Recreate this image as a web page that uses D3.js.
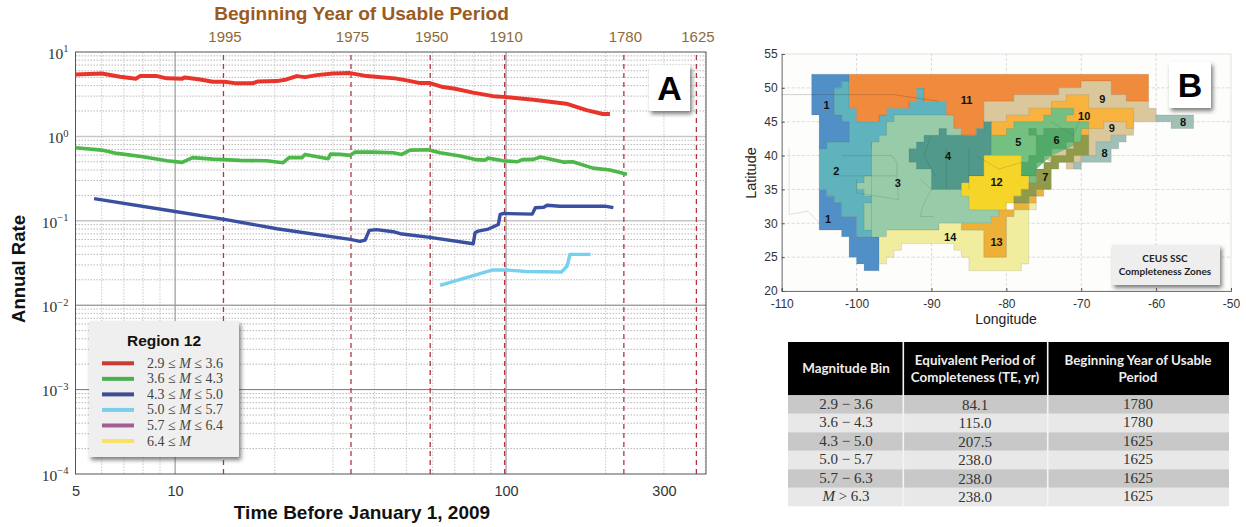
<!DOCTYPE html>
<html>
<head>
<meta charset="utf-8">
<script src="https://cdn.jsdelivr.net/npm/d3@7"></script>
<style>
  html, body { margin: 0; padding: 0; background: #fff; overflow: hidden; }
  svg { display: block; }
  text { font-family: "Liberation Sans", Arial, sans-serif; }
</style>
</head>
<body>
<svg id="chart" width="1246" height="527"></svg>
<script>
// panel A
const redTime = [5, 6, 6.82, 7.62, 7.83, 8.81, 9.44, 10.5, 10.7, 11.9, 13, 14.1, 15.3, 17.1, 17.8, 20.3, 21.7, 23.3, 24.7, 26.8, 30, 33.8, 38, 40.2, 46.2, 50.1, 55, 58.9, 64.5, 70.1, 79.5, 91.4, 100.5, 121, 152, 175, 196, 206]
const redRate = [5.43, 5.57, 5.1, 4.83, 5.18, 5.18, 4.87, 4.83, 5, 4.73, 4.45, 4.45, 4.25, 4.25, 4.48, 4.52, 4.73, 5.18, 5.04, 5.32, 5.57, 5.62, 5.18, 5.1, 4.87, 4.61, 4.28, 4.28, 3.84, 3.67, 3.3, 3, 2.92, 2.72, 2.44, 2.05, 1.84, 1.84]
const greenTime = [5, 6, 6.67, 8, 9.44, 10.5, 11.3, 13, 15.7, 18.9, 21.2, 22.1, 24.2, 24.7, 29, 29.5, 31.5, 33.8, 35, 39.6, 45.6, 48.4, 51.3, 58.1, 63.2, 72.6, 81.4, 86.4, 88.3, 98, 108, 112, 121, 127, 149, 159, 183, 206, 232]
const greenRate = [0.735, 0.688, 0.629, 0.575, 0.515, 0.492, 0.56, 0.538, 0.52, 0.515, 0.488, 0.56, 0.56, 0.612, 0.544, 0.617, 0.612, 0.596, 0.652, 0.652, 0.641, 0.612, 0.688, 0.695, 0.641, 0.585, 0.53, 0.524, 0.553, 0.515, 0.5, 0.53, 0.534, 0.569, 0.496, 0.5, 0.421, 0.399, 0.357]
const blueTime = [5.69, 10, 14.1, 20.3, 33.8, 36.2, 37.5, 38.6, 40.6, 45.6, 47.9, 58.9, 79.6, 80.6, 82.4, 88.4, 94.8, 96, 98.2, 120, 122.6, 130, 133, 145.5, 199, 211]
const blueRate = [0.183, 0.129, 0.104, 0.0806, 0.0602, 0.057, 0.059, 0.0769, 0.0785, 0.0743, 0.0703, 0.0636, 0.0535, 0.0723, 0.0755, 0.0798, 0.0906, 0.119, 0.122, 0.12, 0.143, 0.145, 0.153, 0.149, 0.149, 0.143]
const skyTime = [63.2, 90.6, 100.5, 115, 147, 153, 156, 180]
const skyRate = [0.0172, 0.0261, 0.0261, 0.0251, 0.0247, 0.0291, 0.04, 0.04]

const beginYears = ['1995', '1975', '1950', '1910', '1780', '1625']
const beginTimes = [14, 34, 59, 99, 227, 376]
const timeTicks = [5, 10, 100, 300]
const minorTimes = [6, 7, 8, 9, 20, 30, 40, 50, 60, 70, 80, 90, 200, 300, 400]
const rateDecades = [1, 0, -1, -2, -3, -4]
const lightDecades = [0, -1]

const legendLow = ['2.9', '3.6', '4.3', '5.0', '5.7', '6.4']
const legendHigh = ['3.6', '4.3', '5.0', '5.7', '6.4', '']
const legendColors = ['#c93a32', '#4cae50', '#3b4e90', '#7ccdec', '#a45e96', '#f7e268']

// panel B zones, lon/lat corners
const zone2 = [[-102, 51], [-101, 51], [-101, 47], [-100, 47], [-100, 45], [-97, 45], [-97, 46], [-96, 46], [-96, 47], [-93, 47], [-93, 48], [-92, 48], [-92, 50], [-91, 50], [-91, 48], [-88, 48], [-88, 45], [-98, 41], [-98, 28], [-100, 28], [-100, 31], [-102, 31], [-102, 33], [-103, 33], [-103, 34], [-104, 34], [-104, 35], [-105, 35], [-105, 41], [-104, 46], [-103, 46], [-103, 50], [-102, 50]]
const zone1North = [[-106, 52], [-101, 52], [-101, 51], [-102, 51], [-102, 50], [-103, 50], [-103, 46], [-102, 46], [-102, 45], [-101, 45], [-101, 42], [-104, 42], [-104, 41], [-105, 41], [-105, 46], [-106, 46]]
const zone1South = [[-105, 35], [-104, 35], [-104, 34], [-103, 34], [-103, 33], [-102, 33], [-102, 31], [-100, 31], [-100, 28], [-97, 28], [-97, 23], [-99, 23], [-99, 24], [-100, 24], [-100, 25], [-101, 25], [-101, 28], [-102, 28], [-102, 29], [-105, 29]]
const zone3 = [[-98, 42], [-97, 42], [-97, 43], [-96, 43], [-96, 45], [-95, 45], [-95, 46], [-87, 46], [-87, 44], [-86, 44], [-85, 38], [-84, 36], [-84, 32], [-81, 32], [-81, 31], [-82, 31], [-82, 30], [-89, 30], [-89, 29], [-96, 29], [-96, 28], [-98, 28], [-98, 29], [-99, 29], [-99, 33], [-98, 33], [-98, 34], [-99, 34], [-99, 35], [-100, 35], [-100, 36], [-99, 36], [-99, 37], [-98, 37]]
const zone11 = [[-101, 52], [-61, 52], [-61, 48], [-64, 48], [-64, 49], [-66, 49], [-66, 51], [-70, 51], [-70, 50], [-73, 50], [-73, 49], [-79, 49], [-79, 48], [-83, 48], [-83, 44], [-84, 44], [-84, 43], [-86, 43], [-86, 44], [-87, 44], [-87, 46], [-88, 46], [-88, 48], [-91, 48], [-91, 50], [-92, 50], [-92, 48], [-93, 48], [-93, 47], [-96, 47], [-96, 46], [-97, 46], [-97, 45], [-100, 45], [-100, 47], [-101, 47]]
const zone9 = [[-83, 48], [-79, 48], [-79, 49], [-73, 49], [-73, 50], [-70, 50], [-70, 51], [-66, 51], [-66, 49], [-64, 49], [-64, 48], [-61, 48], [-61, 47], [-60, 47], [-60, 45], [-63, 45], [-63, 43], [-66, 43], [-66, 42], [-68, 42], [-68, 40], [-70, 40], [-70, 39], [-71, 39], [-71, 38], [-72, 38], [-72, 39], [-74, 39], [-82, 45], [-83, 44]]
const zone10 = [[-82, 45], [-80, 45], [-80, 46], [-77, 46], [-77, 47], [-74, 47], [-74, 48], [-72, 48], [-72, 49], [-69, 49], [-69, 47], [-63, 47], [-63, 44], [-64, 44], [-64, 45], [-67, 45], [-67, 44], [-69, 44], [-69, 43], [-70, 43], [-70, 42], [-82, 43]]
const zone5 = [[-82, 43], [-80, 43], [-80, 44], [-79, 44], [-79, 45], [-75, 45], [-75, 46], [-74, 46], [-74, 47], [-71, 47], [-71, 46], [-72, 46], [-72, 45], [-69, 45], [-69, 44], [-70, 44], [-70, 42], [-72, 41], [-74, 40], [-76, 38], [-76, 36], [-77, 36], [-77, 37], [-78, 37], [-78, 40], [-82, 40]]
const zone6 = [[-77, 44], [-76, 44], [-76, 43], [-75, 43], [-75, 44], [-71, 44], [-71, 42], [-72, 42], [-72, 41], [-74, 41], [-74, 40], [-75, 40], [-75, 39], [-76, 39], [-76, 38], [-76, 37], [-78, 37], [-78, 39], [-77, 39], [-77, 40], [-76, 40], [-76, 43], [-77, 43]]
const zone4 = [[-91, 43], [-89, 43], [-89, 44], [-88, 44], [-88, 43], [-84, 43], [-84, 44], [-83, 44], [-83, 45], [-82, 45], [-82, 40], [-83, 40], [-83, 37], [-85, 37], [-85, 36], [-86, 36], [-86, 35], [-90, 35], [-90, 38], [-92, 38], [-92, 39], [-93, 39], [-93, 41], [-92, 41], [-92, 42], [-91, 42]]
const zone12 = [[-83, 40], [-78, 40], [-78, 37], [-77, 37], [-77, 35], [-78, 35], [-78, 34], [-79, 34], [-79, 33], [-80, 33], [-80, 32], [-85, 32], [-85, 34], [-86, 34], [-86, 36], [-85, 36], [-85, 37], [-83, 37]]
const zone14 = [[-97, 28], [-96, 28], [-96, 29], [-89, 29], [-89, 30], [-86, 30], [-86, 29], [-83, 29], [-83, 25], [-80, 25], [-80, 31], [-79, 31], [-79, 32], [-76, 32], [-76, 33], [-77, 33], [-77, 24], [-78, 24], [-78, 23], [-85, 23], [-85, 25], [-86, 25], [-86, 26], [-87, 26], [-87, 27], [-94, 27], [-94, 26], [-95, 26], [-95, 25], [-96, 25], [-96, 24], [-97, 24]]
const zone13 = [[-81, 32], [-79, 32], [-79, 31], [-80, 31], [-80, 25], [-83, 25], [-83, 29], [-86, 29], [-86, 30], [-82, 30], [-82, 31], [-81, 31]]
const zone13East = [[-79, 33], [-77, 33], [-77, 34], [-76, 34], [-76, 35], [-75, 35], [-75, 34], [-76, 34], [-76, 33], [-77, 33], [-77, 32], [-79, 32]]
const zone7 = [[-70, 43], [-69, 43], [-69, 40], [-71, 40], [-71, 39], [-73, 39], [-73, 38], [-74, 38], [-74, 35], [-76, 35], [-76, 34], [-77, 34], [-77, 33], [-79, 33], [-79, 34], [-78, 34], [-78, 35], [-77, 35], [-77, 36], [-76, 36], [-76, 38], [-75, 38], [-75, 39], [-74, 39], [-74, 40], [-72, 40], [-72, 41], [-71, 41], [-71, 42], [-70, 42]]
const zone8East = [[-60, 46], [-55, 46], [-55, 44], [-58, 44], [-58, 45], [-60, 45]]
const zone8South = [[-66, 43], [-64, 43], [-64, 42], [-65, 42], [-65, 41], [-66, 41], [-66, 39], [-70, 39], [-70, 40], [-68, 40], [-68, 42], [-66, 42]]
const zone8Small = [[-71, 39], [-70, 39], [-70, 38], [-71, 38]]

const zoneShapes = [zone2, zone1North, zone1South, zone3, zone11, zone9, zone10, zone5, zone6, zone4, zone14, zone13, zone13East, zone12, zone7, zone8East, zone8South, zone8Small]
const zoneColors = ['#5fb3bd', '#5090c6', '#5090c6', '#98cca8', '#f08a3c', '#dac89c', '#f8b33f', '#74c080', '#52aa68', '#51998a', '#f0ee9e', '#eeb138', '#e9b33c', '#f5d527', '#8f9b48', '#9fbfb7', '#9fbfb7', '#9fbfb7']

const zoneNames = ['1', '1', '2', '3', '4', '11', '14', '9', '10', '9', '8', '8', '5', '6', '7', '12', '13']
const zoneLon = [-104, -103.8, -102.7, -94.5, -87.8, -85.3, -87.5, -67.2, -69.6, -65.9, -56.4, -66.9, -78.4, -73.3, -74.8, -81.3, -81.3]
const zoneLat = [47.4, 30.7, 37.7, 36, 40, 48.2, 28, 48.35, 45.9, 44.1, 44.9, 40.4, 42, 42.3, 36.8, 36.1, 27.3]

const borderNorth = [[-110, 49], [-95, 49], [-92, 48.5], [-89, 48]]
const borderWest = [[-109, 41], [-109, 31.3], [-106.5, 31.8], [-104.5, 29.5], [-103, 29], [-101.5, 29.8], [-99.5, 27.5], [-97.3, 26]]
const stateLines = [
  [[-98, 42], [-98, 28]],
  [[-102, 40], [-95.3, 40], [-94.6, 39]],
  [[-94.6, 39], [-94.6, 36.5], [-94.4, 33.5]],
  [[-103, 37], [-94.6, 37]],
  [[-91.5, 36.5], [-90, 35], [-91, 33], [-91.5, 31], [-89.7, 31]],
  [[-88, 41], [-88, 35]],
  [[-85, 41], [-85, 35]],
  [[-100, 36.5], [-100, 34.5], [-94.4, 33.5]],
  [[-90, 43], [-91, 40], [-89.5, 37]],
  [[-84, 40], [-81, 38], [-78, 39]],
  [[-74, 45], [-71, 43], [-70, 46]]
]
const mapLons = [-100, -90, -80, -70, -60]
const mapLats = [25, 30, 35, 40, 45, 50]
const mapLonTicks = [-110, -100, -90, -80, -70, -60, -50]
const mapLatTicks = [20, 25, 30, 35, 40, 45, 50, 55]

// table under the map
const tableHeads = [['Magnitude Bin'], ['Equivalent Period of', 'Completeness (TE, yr)'], ['Beginning Year of Usable', 'Period']]
const binLabels = ['2.9 \u2212 3.6', '3.6 \u2212 4.3', '4.3 \u2212 5.0', '5.0 \u2212 5.7', '5.7 \u2212 6.3', '> 6.3']
const periodLabels = ['84.1', '115.0', '207.5', '238.0', '238.0', '238.0']
const startLabels = ['1780', '1780', '1625', '1625', '1625', '1625']

const svg = d3.select('#chart')
const defs = svg.append('defs')
const shadow = defs.append('filter').attr('id', 'shadow')
  .attr('x', '-10%').attr('y', '-10%').attr('width', '125%').attr('height', '125%')
shadow.append('feDropShadow')
  .attr('dx', 2).attr('dy', 3).attr('stdDeviation', 2)
  .attr('flood-color', '#444').attr('flood-opacity', 0.7)

const x = d3.scaleLog().domain([5, 402]).range([75.5, 706])
const y = d3.scaleLog().domain([1e-4, 10]).range([474, 52])

const grid = svg.append('g')
const minorRates = y.ticks().filter((d) => !rateDecades.includes(Math.round(Math.log10(d) * 1000) / 1000))

grid.selectAll('.minor-h').data(minorRates).enter().append('line')
  .attr('x1', x.range()[0]).attr('x2', x.range()[1])
  .attr('y1', y).attr('y2', y)
  .attr('stroke', '#a6a6a6').attr('stroke-width', 0.8).attr('stroke-dasharray', '1.5,1.5')
grid.selectAll('.minor-v').data(minorTimes).enter().append('line')
  .attr('x1', x).attr('x2', x)
  .attr('y1', y.range()[0]).attr('y2', y.range()[1])
  .attr('stroke', '#c4c4c4').attr('stroke-width', 0.9).attr('stroke-dasharray', '1.5,1.5')
grid.selectAll('.major-h').data(rateDecades.slice(1, 5)).enter().append('line')
  .attr('x1', x.range()[0]).attr('x2', x.range()[1])
  .attr('y1', (d) => y(Math.pow(10, d))).attr('y2', (d) => y(Math.pow(10, d)))
  .attr('stroke', (d) => lightDecades.includes(d) ? '#c6c6c6' : '#777')
  .attr('stroke-width', (d) => lightDecades.includes(d) ? 1.5 : 1)
grid.selectAll('.major-v').data([10, 100]).enter().append('line')
  .attr('x1', x).attr('x2', x)
  .attr('y1', y.range()[0]).attr('y2', y.range()[1])
  .attr('stroke', '#9a9a9a').attr('stroke-width', 1.2)

svg.append('g').selectAll('line').data(beginTimes).enter().append('line')
  .attr('x1', x).attr('x2', x)
  .attr('y1', y.range()[0]).attr('y2', y.range()[1])
  .attr('stroke', '#b03645').attr('stroke-width', 1.3).attr('stroke-dasharray', '5,4')

svg.append('rect')
  .attr('x', 75.5).attr('y', 52).attr('width', 630.5).attr('height', 422)
  .attr('fill', 'none').attr('stroke', '#555').attr('stroke-width', 1)

const rateLine = d3.line().x((d) => x(d[0])).y((d) => y(d[1]))
const seriesList = [[redTime, redRate, '#e8352b', 4], [greenTime, greenRate, '#4db74a', 3.6], [blueTime, blueRate, '#3a4f9f', 3.4], [skyTime, skyRate, '#78d0ef', 3.4]]
svg.append('g').selectAll('path').data(seriesList).enter().append('path')
  .attr('d', (s) => rateLine(d3.zip(s[0], s[1])))
  .attr('fill', 'none')
  .attr('stroke', (s) => s[2])
  .attr('stroke-width', (s) => s[3])
  .attr('stroke-linejoin', 'round')

// axes
const bottomAxis = svg.append('g')
  .attr('transform', 'translate(0,474)')
  .call(d3.axisBottom(x).tickValues(timeTicks).tickFormat((d) => d).tickSize(0).tickPadding(12))
bottomAxis.select('.domain').remove()
bottomAxis.selectAll('text').attr('font-size', 14.5).attr('fill', '#333')
  .style('font-family', '"Liberation Sans"')

const topAxis = svg.append('g')
  .attr('transform', 'translate(0,52)')
  .call(d3.axisTop(x).tickValues(beginTimes).tickFormat((d, i) => beginYears[i]).tickSize(0).tickPadding(10))
topAxis.select('.domain').remove()
topAxis.selectAll('text').attr('font-size', 15).attr('fill', '#8e6a38').attr('dx', 1)
  .style('font-family', '"Liberation Sans"')

const leftAxis = svg.append('g')
  .attr('transform', 'translate(75.5,0)')
  .call(d3.axisLeft(y).tickValues(rateDecades.map((d) => Math.pow(10, d))).tickFormat('').tickSize(0))
leftAxis.select('.domain').remove()
leftAxis.selectAll('.tick text').each(function (d, i) {
  const t = d3.select(this)
    .attr('x', -7).attr('dy', '0.4em').attr('fill', '#333')
    .style('font-family', '"Liberation Serif"').attr('font-size', 15.5)
  t.append('tspan').text('10')
  t.append('tspan').text(String(rateDecades[i]).replace('-', '\u2212'))
    .attr('font-size', 10.5).attr('dy', '-0.6em')
})

svg.append('text').attr('x', 361.5).attr('y', 20).attr('text-anchor', 'middle')
  .attr('font-size', 19.1).attr('font-weight', 'bold').attr('fill', '#9b5a1f')
  .text('Beginning Year of Usable Period')
svg.append('text').attr('x', 362).attr('y', 519).attr('text-anchor', 'middle')
  .attr('font-size', 19).attr('font-weight', 'bold').attr('fill', '#111')
  .text('Time Before January 1, 2009')
svg.append('text').attr('transform', 'translate(25,269) rotate(-90)').attr('text-anchor', 'middle')
  .attr('font-size', 18.5).attr('font-weight', 'bold').attr('fill', '#111')
  .text('Annual Rate')

// panel letters
const letterBox = (bx, by, bw, bh, letter) => {
  svg.append('rect').attr('x', bx).attr('y', by).attr('width', bw).attr('height', bh)
    .attr('fill', '#fff').attr('filter', 'url(#shadow)')
  svg.append('text').attr('x', bx + bw / 2).attr('y', by + bh / 2 + 12).attr('text-anchor', 'middle')
    .attr('font-size', 34).attr('font-weight', 'bold').attr('fill', '#000').text(letter)
}
letterBox(649, 65, 41, 46, 'A')

// legend
svg.append('rect').attr('x', 89).attr('y', 321).attr('width', 150).attr('height', 136)
  .attr('fill', '#efefef').attr('filter', 'url(#shadow)')
svg.append('text').attr('x', 164).attr('y', 346).attr('text-anchor', 'middle')
  .attr('font-size', 15.5).attr('font-weight', 'bold').attr('fill', '#111').text('Region 12')
const legendY = d3.scalePoint().domain(d3.range(6)).range([363.3, 441])
const legendRows = svg.append('g').selectAll('g').data(d3.range(6)).enter().append('g')
  .attr('transform', (i) => 'translate(0,' + legendY(i) + ')')
legendRows.append('line').attr('x1', 102).attr('x2', 134)
  .attr('stroke', (i) => legendColors[i]).attr('stroke-width', 4)
const legendText = legendRows.append('text').attr('x', 147).attr('y', 4.5)
  .attr('font-size', 14).attr('fill', '#444').style('font-family', '"Liberation Serif"')
legendText.append('tspan').text((i) => legendLow[i] + ' \u2264 ')
legendText.append('tspan').attr('font-style', 'italic').text('M')
legendText.append('tspan').text((i) => legendHigh[i] ? ' \u2264 ' + legendHigh[i] : '')

// panel B map
const lon = d3.scaleLinear().domain([-110, -50]).range([781.7, 1231])
const lat = d3.scaleLinear().domain([20, 55]).range([291, 54])
const mapPath = d3.line().x((d) => lon(d[0])).y((d) => lat(d[1]))

svg.append('rect').attr('x', lon(-110)).attr('y', lat(55))
  .attr('width', lon(-50) - lon(-110)).attr('height', lat(20) - lat(55))
  .attr('fill', '#fdfdfb').attr('stroke', '#e2e2e2').attr('stroke-width', 1)
svg.append('g').selectAll('line').data(mapLons).enter().append('line')
  .attr('x1', lon).attr('x2', lon).attr('y1', lat(20)).attr('y2', lat(55))
  .attr('stroke', '#ccc').attr('stroke-width', 0.7).attr('stroke-dasharray', '3,2')
svg.append('g').selectAll('line').data(mapLats).enter().append('line')
  .attr('y1', lat).attr('y2', lat).attr('x1', lon(-110)).attr('x2', lon(-50))
  .attr('stroke', '#ccc').attr('stroke-width', 0.7).attr('stroke-dasharray', '3,2')

svg.append('path').attr('d', mapPath(borderWest)).attr('fill', 'none').attr('stroke', '#d4d4d4').attr('stroke-width', 0.7)

svg.append('g').selectAll('path').data(zoneShapes).enter().append('path')
  .attr('d', (d) => mapPath(d) + 'Z')
  .attr('fill', (d, i) => zoneColors[i])
  .attr('stroke', 'rgba(70,70,70,0.22)').attr('stroke-width', 0.6)

svg.append('path').attr('d', mapPath(borderNorth)).attr('fill', 'none').attr('stroke', 'rgba(40,40,40,0.35)').attr('stroke-width', 0.6)
svg.append('g').selectAll('path').data(stateLines).enter().append('path')
  .attr('d', mapPath).attr('fill', 'none')
  .attr('stroke', 'rgba(40,60,50,0.26)').attr('stroke-width', 0.6)

svg.append('g').selectAll('text').data(zoneNames).enter().append('text')
  .attr('x', (d, i) => lon(zoneLon[i])).attr('y', (d, i) => lat(zoneLat[i]) + 4)
  .attr('text-anchor', 'middle').attr('font-size', 11).attr('font-weight', 'bold').attr('fill', '#111')
  .text((d) => d)

const lonAxis = svg.append('g').attr('transform', 'translate(0,' + lat(20) + ')')
  .call(d3.axisBottom(lon).tickValues(mapLonTicks).tickFormat((d) => String(d)).tickSize(-3).tickPadding(8))
lonAxis.selectAll('text').attr('font-size', 12).attr('fill', '#333').style('font-family', '"Liberation Sans"')
lonAxis.select('.domain').attr('stroke', '#555').attr('stroke-width', 0.8)
lonAxis.selectAll('line').attr('stroke', '#555')
const latAxis = svg.append('g').attr('transform', 'translate(' + lon(-110) + ',0)')
  .call(d3.axisLeft(lat).tickValues(mapLatTicks).tickSize(-3).tickPadding(4))
latAxis.selectAll('text').attr('font-size', 12).attr('fill', '#333').style('font-family', '"Liberation Sans"')
latAxis.select('.domain').attr('stroke', '#555').attr('stroke-width', 0.8)
latAxis.selectAll('line').attr('stroke', '#555')

svg.append('text').attr('x', 1006).attr('y', 324).attr('text-anchor', 'middle')
  .attr('font-size', 14).attr('fill', '#222').text('Longitude')
svg.append('text').attr('transform', 'translate(756,173) rotate(-90)').attr('text-anchor', 'middle')
  .attr('font-size', 14.5).attr('fill', '#222').text('Latitude')

letterBox(1169, 62, 42, 46, 'B')

svg.append('rect').attr('x', 1112).attr('y', 245).attr('width', 108).attr('height', 40)
  .attr('fill', '#eeeeee').attr('filter', 'url(#shadow)')
svg.append('g').selectAll('text').data(['CEUS SSC', 'Completeness Zones']).enter().append('text')
  .attr('x', 1165).attr('y', (d, i) => 261.5 + i * 13.5).attr('text-anchor', 'middle')
  .attr('font-size', 10).attr('font-weight', 'bold').attr('fill', '#222')
  .style('font-family', 'Lato').text((d) => d)

// table
const colEdges = [788, 903.3, 1047.7, 1229]
const colMid = [846, 975, 1138]
const rowY = d3.scaleBand().domain(d3.range(6)).range([395.3, 506.3])

svg.append('rect').attr('x', colEdges[0]).attr('y', 342).attr('width', colEdges[3] - colEdges[0]).attr('height', 53.3).attr('fill', '#000')
svg.append('g').selectAll('rect').data(d3.range(6)).enter().append('rect')
  .attr('x', colEdges[0]).attr('width', colEdges[3] - colEdges[0])
  .attr('y', rowY).attr('height', rowY.bandwidth())
  .attr('fill', (i) => i % 2 ? '#e8e8e8' : '#c8c8c8')
svg.append('g').selectAll('line').data(colEdges.slice(1, 3)).enter().append('line')
  .attr('x1', (d) => d).attr('x2', (d) => d).attr('y1', 342).attr('y2', 506.3)
  .attr('stroke', '#f4f4f4').attr('stroke-width', 1.6)

tableHeads.forEach((lines, c) => {
  svg.append('g').selectAll('text').data(lines).enter().append('text')
    .attr('x', colMid[c])
    .attr('y', (d, i) => 373 + (i - (lines.length - 1) / 2) * 17)
    .attr('text-anchor', 'middle').attr('font-size', 13.4).attr('font-weight', 'bold')
    .attr('fill', '#eee').style('font-family', 'Lato').text((d) => d)
})

const bodyCell = (labels, c, shift) => {
  svg.append('g').selectAll('text').data(labels).enter().append('text')
    .attr('x', colMid[c]).attr('y', (d, i) => rowY(i) + rowY.bandwidth() / 2 + 4 + shift)
    .attr('text-anchor', 'middle').attr('font-size', 15).attr('fill', '#333')
    .style('font-family', '"Liberation Serif"')
    .each(function (d, i) {
      if (c === 0 && i === 5) {
        d3.select(this).append('tspan').attr('font-style', 'italic').text('M ')
        d3.select(this).append('tspan').text(d)
      } else {
        d3.select(this).text(d)
      }
    })
}
bodyCell(binLabels, 0, 0)
bodyCell(periodLabels, 1, 1)
bodyCell(startLabels, 2, 0)
</script>
</body>
</html>
